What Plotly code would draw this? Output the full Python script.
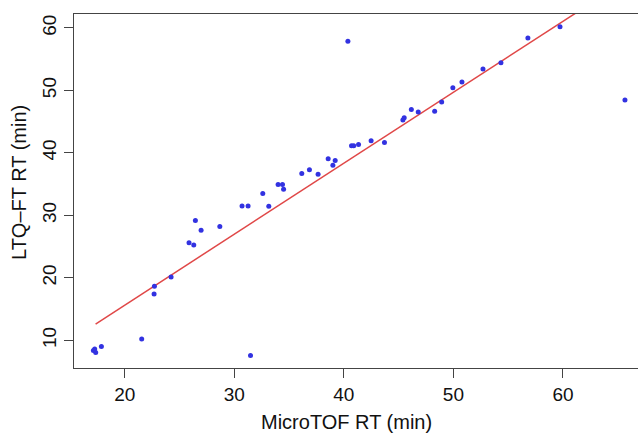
import plotly.graph_objects as go

# MicroTOF retention times (min)
microtof_rt = [17.14, 17.26, 17.35, 17.87, 21.55, 22.68, 22.71, 24.23, 25.87, 26.30,
               26.45, 26.97, 28.68, 30.71, 31.26, 31.48, 32.60, 33.15, 34.00, 34.40,
               34.50, 36.16, 36.86, 37.65, 38.57, 39.00, 39.21, 40.37, 40.70, 40.90,
               41.34, 42.49, 43.71, 45.39, 45.51, 46.16, 46.79, 48.29, 48.93, 49.95,
               50.78, 52.70, 54.34, 56.80, 59.73, 65.66]
# LTQ-FT retention times (min)
ltqft_rt = [8.35, 8.60, 8.03, 8.99, 10.21, 17.42, 18.65, 20.15, 25.60, 25.27,
            29.18, 27.63, 28.22, 31.50, 31.50, 7.55, 33.50, 31.47, 34.95, 34.95,
            34.20, 36.70, 37.30, 36.60, 39.06, 38.04, 38.80, 57.87, 41.14, 41.14,
            41.36, 41.93, 41.67, 45.26, 45.63, 46.96, 46.54, 46.65, 48.14, 50.43,
            51.35, 53.43, 54.44, 58.40, 60.20, 48.46]

# fitted regression line
fit_intercept = -7.10
fit_slope = 1.136
fit_x = [min(microtof_rt) + 0.2, max(microtof_rt)]
fit_y = [fit_intercept + fit_slope * v for v in fit_x]

x_ticks = [20, 30, 40, 50, 60]
y_ticks = [10, 20, 30, 40, 50, 60]

fig = go.Figure()
fig.add_trace(go.Scatter(x=fit_x, y=fit_y, mode="lines",
                         line=dict(color="#e04848", width=1.5),
                         showlegend=False, hoverinfo="skip"))
fig.add_trace(go.Scatter(x=microtof_rt, y=ltqft_rt, mode="markers",
                         marker=dict(color="rgb(50,50,225)", size=5),
                         showlegend=False, cliponaxis=False))

font = "Liberation Sans, Arial, sans-serif"
axis_common = dict(showgrid=False, zeroline=False, showline=True,
                   linecolor="#444", linewidth=1.4, ticks="outside",
                   ticklen=9, tickwidth=1.3, tickcolor="#444",
                   tickfont=dict(family=font, size=19, color="#111"))

fig.update_layout(
    width=638, height=435,
    margin=dict(l=74, r=0, t=14, b=67),
    paper_bgcolor="white", plot_bgcolor="white",
    xaxis=dict(range=[15.37, 66.85], tickvals=x_ticks, mirror=True, **axis_common),
    yaxis=dict(range=[5.56, 62.24], tickvals=y_ticks, tickangle=-90, **axis_common),
    annotations=[
        dict(text="MicroTOF RT (min)", xref="paper", yref="paper",
             x=(346.5 - 74) / 564, y=-(422 - 368) / 354, xanchor="center", yanchor="middle",
             showarrow=False, font=dict(family=font, size=20, color="#111")),
        dict(text="LTQ–FT RT (min)", xref="paper", yref="paper",
             x=-(74 - 19) / 564, y=(368 - 183) / 354, xanchor="center", yanchor="middle",
             textangle=-90, showarrow=False, font=dict(family=font, size=20, color="#111")),
    ],
)

fig.write_html("out.html", config={"displayModeBar": False},
               post_script="document.body.style.margin='0';document.body.style.overflow='hidden';")
